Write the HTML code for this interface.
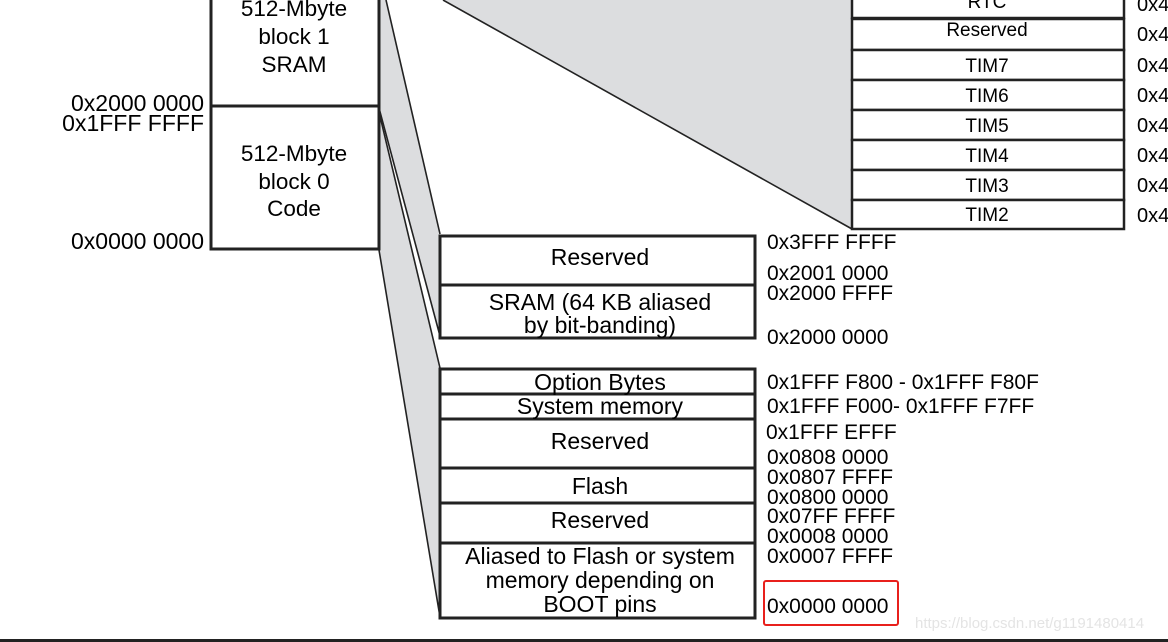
<!DOCTYPE html>
<html><head><meta charset="utf-8"><style>
html,body{margin:0;padding:0;background:#fff;width:1168px;height:642px;overflow:hidden}
svg{display:block;font-family:"Liberation Sans",Arial,sans-serif;fill:#000}
</style></head><body>
<svg width="1168" height="642" viewBox="0 0 1168 642" xmlns="http://www.w3.org/2000/svg">
<polygon points="443,0 852,0 852,229" fill="#dcdddf"/>
<line x1="443" y1="0" x2="852" y2="229" stroke="#222" stroke-width="1.6"/>
<polygon points="379,0 386,0 440,234 440,336 379,108" fill="#dcdddf"/>
<polygon points="379,112 440,368 440,617 379,250" fill="#dcdddf"/>
<g stroke="#222" stroke-width="1.6">
<line x1="386" y1="0" x2="440" y2="234"/>
<line x1="379" y1="108" x2="440" y2="336"/>
<line x1="379" y1="112" x2="440" y2="368"/>
<line x1="379" y1="250" x2="440" y2="617"/>
</g>
<g fill="#fff" stroke="#222" stroke-width="3">
<rect x="211" y="-5" width="168" height="111"/>
<rect x="211" y="106" width="168" height="143"/>
</g>
<g font-size="22.5" text-anchor="middle">
<text x="294" y="16">512-Mbyte</text>
<text x="294" y="44">block 1</text>
<text x="294" y="72">SRAM</text>
<text x="294" y="161">512-Mbyte</text>
<text x="294" y="189">block 0</text>
<text x="294" y="216">Code</text>
</g>
<g font-size="23" text-anchor="end">
<text x="204" y="111">0x2000 0000</text>
<text x="204" y="131">0x1FFF FFFF</text>
<text x="204" y="249">0x0000 0000</text>
</g>
<g fill="#fff" stroke="#222" stroke-width="2.5">
<rect x="852" y="-5" width="272" height="23"/>
<rect x="852" y="19" width="272" height="31"/>
<rect x="852" y="50" width="272" height="30"/>
<rect x="852" y="80" width="272" height="30"/>
<rect x="852" y="110" width="272" height="30"/>
<rect x="852" y="140" width="272" height="30"/>
<rect x="852" y="170" width="272" height="30"/>
<rect x="852" y="200" width="272" height="29"/>
</g>
<g font-size="19" text-anchor="middle">
<text x="987" y="8">RTC</text>
<text x="987" y="36">Reserved</text>
<text x="987" y="72">TIM7</text>
<text x="987" y="102">TIM6</text>
<text x="987" y="132">TIM5</text>
<text x="987" y="162">TIM4</text>
<text x="987" y="192">TIM3</text>
<text x="987" y="221">TIM2</text>
</g>
<g font-size="20">
<text x="1137" y="11">0x4</text>
<text x="1137" y="41">0x4</text>
<text x="1137" y="72">0x4</text>
<text x="1137" y="102">0x4</text>
<text x="1137" y="132">0x4</text>
<text x="1137" y="162">0x4</text>
<text x="1137" y="192">0x4</text>
<text x="1137" y="222">0x4</text>
</g>
<g fill="#fff" stroke="#222" stroke-width="3">
<rect x="440" y="236" width="315" height="49"/>
<rect x="440" y="285" width="315" height="53"/>
<rect x="440" y="369" width="315" height="25"/>
<rect x="440" y="394" width="315" height="25"/>
<rect x="440" y="419" width="315" height="49"/>
<rect x="440" y="468" width="315" height="35"/>
<rect x="440" y="503" width="315" height="40"/>
<rect x="440" y="543" width="315" height="75"/>
</g>
<g font-size="23" text-anchor="middle">
<text x="600" y="265">Reserved</text>
<text x="600" y="310">SRAM (64 KB aliased</text>
<text x="600" y="333">by bit-banding)</text>
<text x="600" y="390">Option Bytes</text>
<text x="600" y="414">System memory</text>
<text x="600" y="449">Reserved</text>
<text x="600" y="494">Flash</text>
<text x="600" y="528">Reserved</text>
<text x="600" y="564">Aliased to Flash or system</text>
<text x="600" y="588">memory depending on</text>
<text x="600" y="612">BOOT pins</text>
</g>
<g font-size="21">
<text x="767" y="249">0x3FFF FFFF</text>
<text x="767" y="280">0x2001 0000</text>
<text x="767" y="300">0x2000 FFFF</text>
<text x="767" y="344">0x2000 0000</text>
<text x="767" y="389">0x1FFF F800 - 0x1FFF F80F</text>
<text x="767" y="413">0x1FFF F000- 0x1FFF F7FF</text>
<text x="766" y="439">0x1FFF EFFF</text>
<text x="767" y="464">0x0808 0000</text>
<text x="767" y="484">0x0807 FFFF</text>
<text x="767" y="504">0x0800 0000</text>
<text x="767" y="523">0x07FF FFFF</text>
<text x="767" y="543">0x0008 0000</text>
<text x="767" y="563">0x0007 FFFF</text>
<text x="767" y="613">0x0000 0000</text>
</g>
<rect x="764" y="581" width="134" height="44" fill="none" stroke="#e8201c" stroke-width="2" rx="2"/>
<text x="915" y="628" font-size="15" style="fill:#e4e4e4">https://blog.csdn.net/g1191480414</text>
<rect x="0" y="639" width="1168" height="3" fill="#222"/>
</svg>
</body></html>
